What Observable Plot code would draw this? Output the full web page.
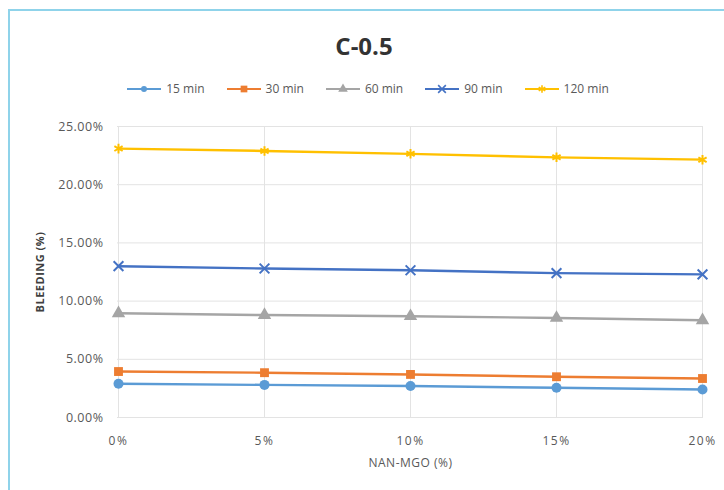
<!DOCTYPE html>
<html>
<head>
<meta charset="utf-8">
<script src="https://cdn.jsdelivr.net/npm/d3@7"></script>
<script src="https://cdn.jsdelivr.net/npm/@observablehq/plot@0.6"></script>
<style>
  html, body { margin: 0; padding: 0; background: #fff; }
  #page { position: relative; width: 724px; height: 490px; overflow: hidden; background: #fff; font-family: "Open Sans", Lato, sans-serif; }
  #frame { position: absolute; left: 8px; top: 9px; width: 716px; height: 481px; border-left: 2px solid #8fd3ea; border-top: 2px solid #8fd3ea; box-sizing: border-box; background: #fff; }
  #title { position: absolute; left: 0; top: 29px; width: 728px; text-align: center; font-size: 24px; font-weight: bold; color: #333; }
  #legend { position: absolute; left: 0; top: 80px; width: 736px; display: flex; justify-content: center; gap: 22px; font-size: 12px; color: #595959; }
  .item { display: flex; align-items: center; gap: 5px; }
  #chart { position: absolute; left: 0; top: 110px; }
  #chart svg text { letter-spacing: 0.5px; }
  #chart svg g[aria-label="x-axis tick label"] text { letter-spacing: 1.5px; }
</style>
</head>
<body>
<div id="page">
  <div id="frame"></div>
  <div id="title">C-0.5</div>
  <div id="legend"></div>
  <div id="chart"></div>
</div>
<script>
const categories = ["0%", "5%", "10%", "15%", "20%"];
const seriesNames = ["15 min", "30 min", "60 min", "90 min", "120 min"];
const v15 = [2.9, 2.8, 2.7, 2.55, 2.4];
const v30 = [3.95, 3.85, 3.7, 3.5, 3.35];
const v60 = [8.95, 8.8, 8.7, 8.55, 8.35];
const v90 = [13.0, 12.8, 12.65, 12.4, 12.3];
const v120 = [23.1, 22.9, 22.65, 22.35, 22.15];
const yTicks = [0, 5, 10, 15, 20, 25];
const colors = ["#5B9BD5", "#ED7D31", "#A5A5A5", "#4472C4", "#FFC000"];
const symbols = ["circle", "square", "triangle", "times", "asterisk"];

const allValues = [v15, v30, v60, v90, v120];
const data = [];
seriesNames.forEach((s, si) => {
  categories.forEach((c, ci) => data.push({series: s, cat: c, value: allValues[si][ci]}));
});

// legend
const legend = document.getElementById("legend");
const symMap = {circle: d3.symbolCircle, square: d3.symbolSquare, triangle: d3.symbolTriangle, times: d3.symbolTimes, asterisk: d3.symbolAsterisk};
seriesNames.forEach((s, i) => {
  const item = document.createElement("div");
  item.className = "item";
  const size = symbols[i] === "circle" ? 28 : symbols[i] === "square" ? 45 : 40;
  const path = d3.symbol(symMap[symbols[i]], size)();
  const filled = symbols[i] === "times" || symbols[i] === "asterisk" ? `fill="none" stroke="${colors[i]}" stroke-width="1.6"` : `fill="${colors[i]}"`;
  item.innerHTML = `<svg width="34" height="12"><line x1="0" x2="34" y1="6" y2="6" stroke="${colors[i]}" stroke-width="2.2"/><path transform="translate(17,6)" d="${path}" ${filled}/></svg><span>${s}</span>`;
  legend.appendChild(item);
});

const chart = Plot.plot({
  width: 724,
  height: 380,
  marginLeft: 117,
  marginRight: 21,
  marginTop: 16,
  marginBottom: 73,
  style: {fontFamily: "'Open Sans', Lato, sans-serif", fontSize: "12px", color: "#595959", background: "transparent", overflow: "visible"},
  x: {type: "point", domain: categories, padding: 0},
  y: {domain: [0, 25]},
  color: {domain: seriesNames, range: colors},
  symbol: {domain: seriesNames, range: symbols},
  marks: [
    Plot.gridX({stroke: "#e3e3e3", strokeOpacity: 1}),
    Plot.gridY({ticks: yTicks, stroke: "#e3e3e3", strokeOpacity: 1}),
    Plot.axisY({ticks: yTicks, tickSize: 0, tickPadding: 14, tickFormat: d => d.toFixed(2) + "%", label: null, fontSize: 12.5}),
    Plot.axisY({ticks: yTicks, tickSize: 0, tickFormat: () => "", label: "BLEEDING (%)", labelArrow: "none", labelAnchor: "center", labelOffset: 81, fontWeight: "bold", fontSize: 11, fill: "#404040"}),
    Plot.axisX({tickSize: 0, tickPadding: 19, label: "NAN-MGO (%)", labelArrow: "none", labelAnchor: "center", labelOffset: 49, fontSize: 12}),
    Plot.line(data, {x: "cat", y: "value", z: "series", stroke: "series", strokeWidth: 2.4}),
    Plot.dot(data.filter(d => d.series === "15 min" || d.series === "30 min" || d.series === "60 min"), {x: "cat", y: "value", symbol: "series", fill: "series", r: 5}),
    Plot.dot(data.filter(d => d.series === "90 min" || d.series === "120 min"), {x: "cat", y: "value", symbol: "series", stroke: "series", strokeWidth: 2, r: 4.5})
  ]
});
document.getElementById("chart").appendChild(chart);
</script>
</body>
</html>
